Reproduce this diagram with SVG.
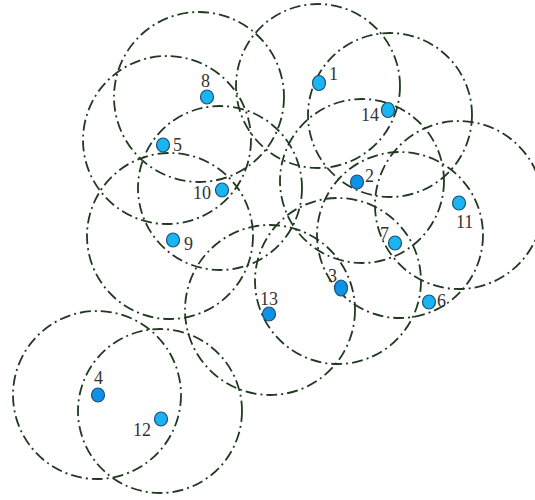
<svg xmlns="http://www.w3.org/2000/svg" width="535" height="500" viewBox="0 0 535 500">
<style>
.rng{fill:none;stroke:#1f3a1f;stroke-width:1.8;stroke-dasharray:11 4 2 4}
.n{fill:#1ab4f0;stroke:#1d4f78;stroke-width:1.2}
.d{fill:#0e92e8;stroke:#1d4f78;stroke-width:1.2}
.t{font-family:"Liberation Serif","Times New Roman",serif;font-size:18px;fill:#333}
</style>
<rect width="535" height="500" fill="#fff"/>
<g id="ranges">
<circle class="rng" cx="318" cy="86" r="82"/>
<circle class="rng" cx="390" cy="115" r="82"/>
<circle class="rng" cx="199" cy="97" r="85"/>
<circle class="rng" cx="167" cy="140" r="84"/>
<circle class="rng" cx="220" cy="188" r="82"/>
<circle class="rng" cx="170" cy="236" r="83"/>
<circle class="rng" cx="362" cy="181" r="82"/>
<circle class="rng" cx="459" cy="205" r="84"/>
<circle class="rng" cx="400" cy="235" r="83"/>
<circle class="rng" cx="338" cy="281" r="83"/>
<circle class="rng" cx="270" cy="310" r="85"/>
<circle class="rng" cx="97" cy="395" r="84"/>
<circle class="rng" cx="160" cy="411" r="82"/>
</g>
<g id="node1"><ellipse class="n" cx="319" cy="83" rx="6.5" ry="7.5"/><text class="t" x="329" y="80">1</text></g>
<g id="node2"><ellipse class="d" cx="357" cy="182" rx="6.5" ry="7"/><text class="t" x="365" y="182">2</text></g>
<g id="node3"><ellipse class="d" cx="341" cy="288" rx="6.5" ry="8"/><text class="t" x="328" y="282">3</text></g>
<g id="node4"><ellipse class="d" cx="98" cy="395" rx="6.5" ry="7"/><text class="t" x="94" y="384">4</text></g>
<g id="node5"><ellipse class="n" cx="163" cy="145" rx="6.5" ry="7"/><text class="t" x="173" y="151">5</text></g>
<g id="node6"><ellipse class="n" cx="429" cy="302" rx="6.5" ry="7"/><text class="t" x="437" y="307">6</text></g>
<g id="node7"><ellipse class="n" cx="395" cy="243" rx="6.5" ry="7"/><text class="t" x="380" y="240">7</text></g>
<g id="node8"><ellipse class="n" cx="207" cy="97" rx="6.5" ry="7"/><text class="t" x="201" y="87">8</text></g>
<g id="node9"><ellipse class="n" cx="173" cy="240" rx="6.5" ry="7"/><text class="t" x="184" y="250">9</text></g>
<g id="node10"><ellipse class="n" cx="222" cy="190" rx="6.5" ry="7"/><text class="t" x="193" y="199">10</text></g>
<g id="node11"><ellipse class="n" cx="459" cy="203" rx="6.5" ry="7"/><text class="t" x="456" y="228">11</text></g>
<g id="node12"><ellipse class="n" cx="161" cy="419" rx="6.5" ry="7"/><text class="t" x="133" y="436">12</text></g>
<g id="node13"><ellipse class="d" cx="269" cy="314" rx="6.5" ry="7"/><text class="t" x="260" y="305">13</text></g>
<g id="node14"><ellipse class="n" cx="388" cy="110" rx="6.5" ry="7.5"/><text class="t" x="361" y="121">14</text></g>
</svg>
